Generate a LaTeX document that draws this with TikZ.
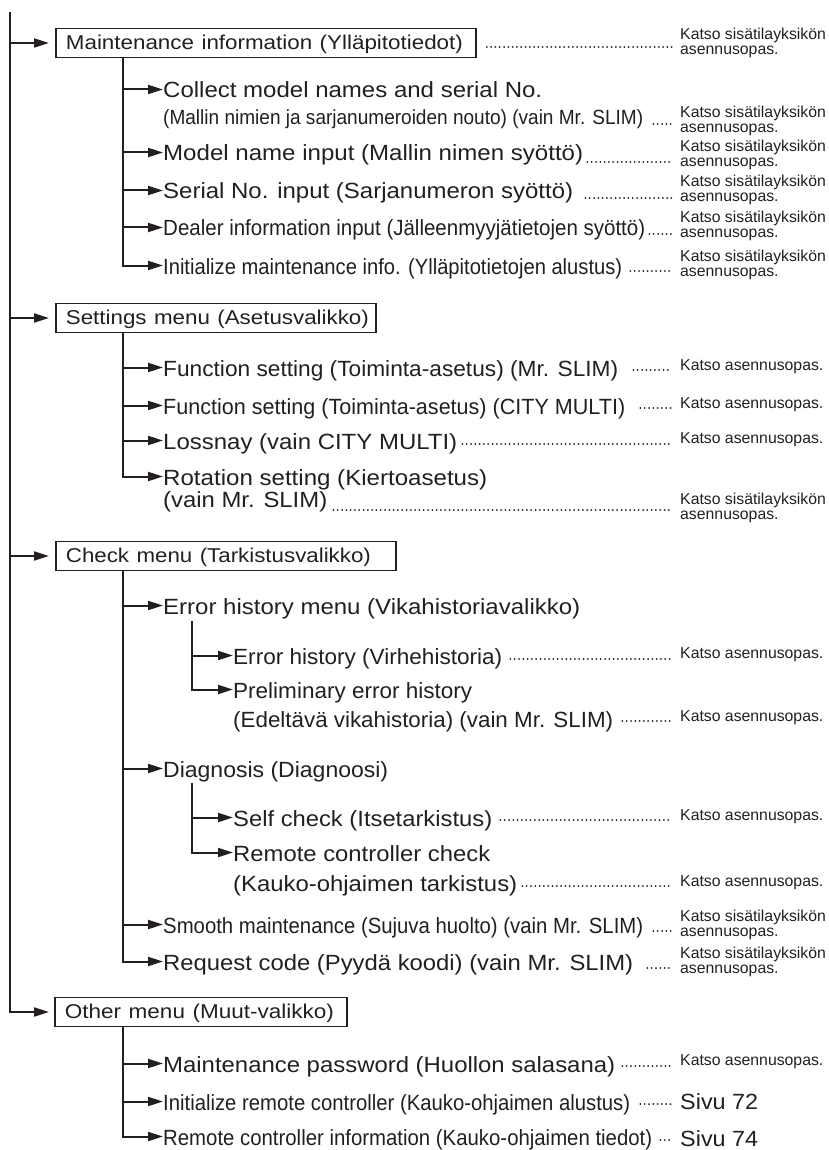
\documentclass[tikz,border=0pt]{standalone}
\usepackage{fontspec}
\usepackage{graphicx}
\setmainfont{Liberation Sans}
\usetikzlibrary{arrows.meta}
\definecolor{ink}{RGB}{35,31,32}
\newcommand\fitw[2]{\resizebox{#1pt}{\height}{#2}}
\begin{document}
\begin{tikzpicture}[x=1pt,y=-1pt,color=ink,
  arr/.style={line width=2pt,-{Triangle[length=15pt,width=9pt]}},
  menubox/.style={draw,line width=1.8pt,anchor=west,inner xsep=10pt,inner ysep=0pt,
    text width=#1,align=left,
    minimum height=29pt,text height=16pt,text depth=3.4pt,font=\fontsize{20}{22}\selectfont},
  big/.style={inner sep=0pt,anchor=base west,text height=17.5pt,text depth=0.5pt,
    font=\fontsize{22}{24}\selectfont},
  cndsmall/.style={inner sep=0pt,anchor=base west,text height=16.5pt,text depth=0.5pt,
    font=\fontsize{20.5}{23}\selectfont},
  katso/.style={inner sep=0pt,anchor=west,align=left,font=\fontsize{15.8}{15}\selectfont},
  sivu/.style={inner sep=0pt,anchor=west,text height=17.5pt,text depth=0.5pt,
    font=\fontsize{22}{24}\selectfont},
  dotline/.style={line width=2pt,line cap=round,dash pattern=on 0pt off 4.3pt,shorten >=8pt}
]
\useasboundingbox (0,0) rectangle (828,1150);

% ---------- top level ----------
\coordinate (top) at (10,12);
\node[menubox=400pt] (b1) at (55,43) {\fitw{397}{Maintenance information (Ylläpitotiedot)}};
\node[menubox=300pt] (b2) at (55,318) {\fitw{303}{Settings menu (Asetusvalikko)}};
\node[menubox=320pt] (b3) at (55,556) {\fitw{305}{Check menu (Tarkistusvalikko)}};
\node[menubox=272pt] (b4) at (54,1012) {\fitw{269}{Other menu (Muut-valikko)}};
\draw[arr,shorten >=6pt] (top |- b1.west) -- (b1.west);
\draw[arr,shorten >=6pt] (top |- b2.west) -- (b2.west);
\draw[arr,shorten >=6pt] (top |- b3.west) -- (b3.west);
\draw[arr,shorten >=5pt] (top) |- (b4.west);

% ---------- Maintenance information ----------
\node[big] (m1) at (163,98) {\fitw{379}{Collect model names and serial No.}};
\node[cndsmall] (m1b) at (163,124.6) {\fitw{480}{(Mallin nimien ja sarjanumeroiden nouto) (vain Mr. SLIM)}};
\node[big] (m2) at (163,161) {\fitw{420}{Model name input (Mallin nimen syöttö)}};
\node[big] (m3) at (163,199) {\fitw{410}{Serial No. input (Sarjanumeron syöttö)}};
\node[big] (m4) at (163,236) {\fitw{482}{Dealer information input (Jälleenmyyjätietojen syöttö)}};
\node[big] (m5) at (163,274) {\fitw{459}{Initialize maintenance info. (Ylläpitotietojen alustus)}};
\coordinate (v1) at (123,57);
\draw[arr] (v1) |- (m5.west);
\foreach \n in {m1,m2,m3,m4} \draw[arr] (v1 |- \n.west) -- (\n.west);

\node[katso] (k0) at (680,43) {Katso sisätilayksikön\\asennusopas.};
\node[katso] (k1) at (680,121) {Katso sisätilayksikön\\asennusopas.};
\node[katso] (k2) at (680,155) {Katso sisätilayksikön\\asennusopas.};
\node[katso] (k3) at (680,190) {Katso sisätilayksikön\\asennusopas.};
\node[katso] (k4) at (680,226) {Katso sisätilayksikön\\asennusopas.};
\node[katso] (k5) at (680,265) {Katso sisätilayksikön\\asennusopas.};
\draw[dotline] (b1.east |- 0,47) ++(10,0) -- (k0.west |- 0,47);
\draw[dotline] (m1b.east |- 0,124) ++(10,0) -- (k1.west |- 0,124);
\draw[dotline] (m2.east |- 0,162) ++(4,0) -- (k2.west |- 0,162);
\draw[dotline] (m3.east |- 0,198) ++(12,0) -- (k3.west |- 0,198);
\draw[dotline] (m4.east |- 0,234) ++(4,0) -- (k4.west |- 0,234);
\draw[dotline] (m5.east |- 0,271) ++(8,0) -- (k5.west |- 0,271);

% ---------- Settings menu ----------
\node[big] (s1) at (163,376) {\fitw{455}{Function setting (Toiminta-asetus) (Mr. SLIM)}};
\node[big] (s2) at (163,414) {\fitw{462}{Function setting (Toiminta-asetus) (CITY MULTI)}};
\node[big] (s3) at (163,449) {\fitw{294}{Lossnay (vain CITY MULTI)}};
\node[big] (s4) at (163,485) {\fitw{324}{Rotation setting (Kiertoasetus)}};
\node[big] (s4b) at (163,507) {\fitw{164}{(vain Mr. SLIM)}};
\coordinate (v2) at (123,332);
\draw[arr] (v2) |- (s4.west);
\foreach \n in {s1,s2,s3} \draw[arr] (v2 |- \n.west) -- (\n.west);

\node[katso] (ks1) at (680,367) {Katso asennusopas.};
\node[katso] (ks2) at (680,405) {Katso asennusopas.};
\node[katso] (ks3) at (680,440) {Katso asennusopas.};
\node[katso] (ks4) at (680,508) {Katso sisätilayksikön\\asennusopas.};
\draw[dotline] (s1.east |- 0,370) ++(15,0) -- (ks1.west |- 0,370);
\draw[dotline] (s2.east |- 0,408) ++(15,0) -- (ks2.west |- 0,408);
\draw[dotline] (s3.east |- 0,444) ++(5,0) -- (ks3.west |- 0,444);
\draw[dotline] (s4b.east |- 0,510) ++(6,0) -- (ks4.west |- 0,510);

% ---------- Check menu ----------
\node[big] (c1) at (163,614) {\fitw{417}{Error history menu (Vikahistoriavalikko)}};
\node[big] (c11) at (233,664) {\fitw{269}{Error history (Virhehistoria)}};
\node[big] (c12) at (233,698) {\fitw{239}{Preliminary error history}};
\node[big] (c12b) at (233,727) {\fitw{380}{(Edeltävä vikahistoria) (vain Mr. SLIM)}};
\node[big] (c2) at (163,777) {\fitw{225}{Diagnosis (Diagnoosi)}};
\node[big] (c21) at (233,826) {\fitw{259}{Self check (Itsetarkistus)}};
\node[big] (c22) at (233,861) {\fitw{257}{Remote controller check}};
\node[big] (c22b) at (233,891) {\fitw{284}{(Kauko-ohjaimen tarkistus)}};
\node[big] (c3) at (163,933) {\fitw{480}{Smooth maintenance (Sujuva huolto) (vain Mr. SLIM)}};
\node[big] (c4) at (163,970) {\fitw{470}{Request code (Pyydä koodi) (vain Mr. SLIM)}};
\coordinate (v3) at (123,570);
\draw[arr] (v3) |- (c4.west);
\foreach \n in {c1,c2,c3} \draw[arr] (v3 |- \n.west) -- (\n.west);
\coordinate (e1) at (192,621);
\draw[arr] (e1) |- (c12.west);
\draw[arr] (e1 |- c11.west) -- (c11.west);
\coordinate (d1) at (192,783);
\draw[arr] (d1) |- (c22.west);
\draw[arr] (d1 |- c21.west) -- (c21.west);

\node[katso] (kc1) at (680,655) {Katso asennusopas.};
\node[katso] (kc2) at (680,718) {Katso asennusopas.};
\node[katso] (kc3) at (680,817) {Katso asennusopas.};
\node[katso] (kc4) at (680,883) {Katso asennusopas.};
\node[katso] (kc5) at (680,925) {Katso sisätilayksikön\\asennusopas.};
\node[katso] (kc6) at (680,962) {Katso sisätilayksikön\\asennusopas.};
\draw[dotline] (c11.east |- 0,659) ++(8,0) -- (kc1.west |- 0,659);
\draw[dotline] (c12b.east |- 0,721) ++(9,0) -- (kc2.west |- 0,721);
\draw[dotline] (c21.east |- 0,820) ++(8,0) -- (kc3.west |- 0,820);
\draw[dotline] (c22b.east |- 0,886) ++(5,0) -- (kc4.west |- 0,886);
\draw[dotline] (c3.east |- 0,931) ++(10,0) -- (kc5.west |- 0,931);
\draw[dotline] (c4.east |- 0,968) ++(14,0) -- (kc6.west |- 0,968);

% ---------- Other menu ----------
\node[big] (o1) at (163,1072) {\fitw{452}{Maintenance password (Huollon salasana)}};
\node[big] (o2) at (163,1110) {\fitw{467}{Initialize remote controller (Kauko-ohjaimen alustus)}};
\node[big] (o3) at (163,1145) {\fitw{489}{Remote controller information (Kauko-ohjaimen tiedot)}};
\coordinate (v4) at (123,1027);
\draw[arr] (v4) |- (o3.west);
\foreach \n in {o1,o2} \draw[arr] (v4 |- \n.west) -- (\n.west);

\node[katso] (ko1) at (680,1062) {Katso asennusopas.};
\node[sivu] (ko2) at (680,1101) {\fitw{78}{Sivu 72}};
\node[sivu] (ko3) at (680,1138) {\fitw{78}{Sivu 74}};
\draw[dotline] (o1.east |- 0,1066) ++(7,0) -- (ko1.west |- 0,1066);
\draw[dotline] (o2.east |- 0,1104) ++(10,0) -- (ko2.west |- 0,1104);
\draw[dotline] (o3.east |- 0,1140) ++(8,0) -- (ko3.west |- 0,1140);
\end{tikzpicture}
\end{document}
